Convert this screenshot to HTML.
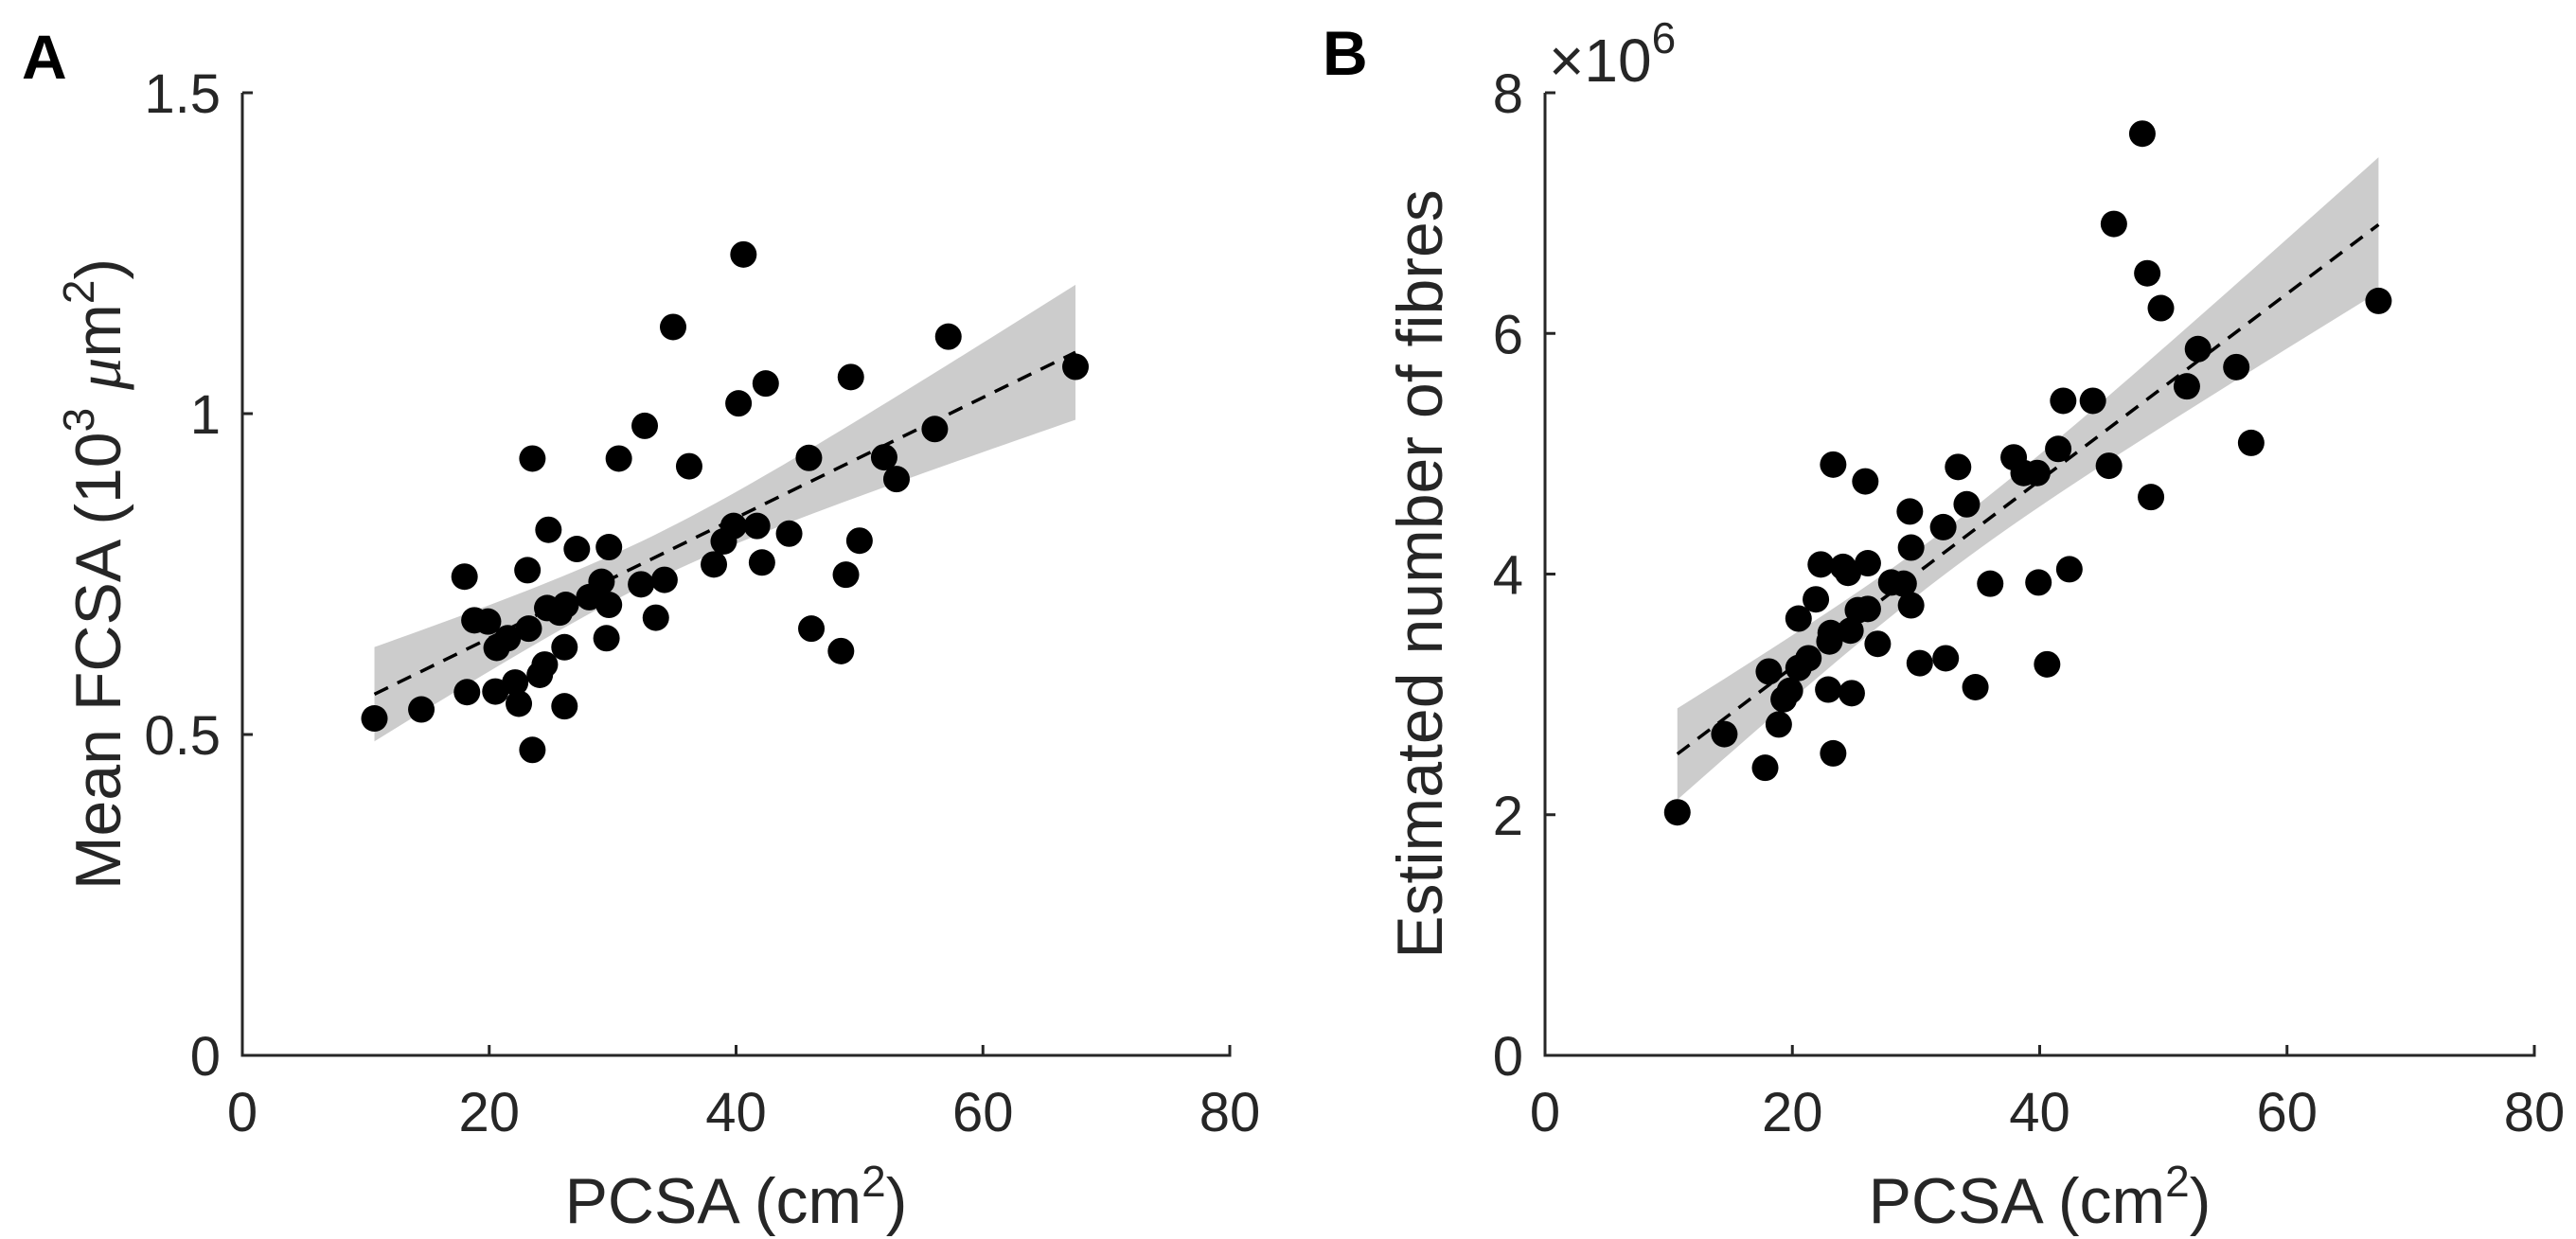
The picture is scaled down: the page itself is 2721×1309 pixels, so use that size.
<!DOCTYPE html>
<html><head><meta charset="utf-8"><style>
html,body{margin:0;padding:0;background:#fff;}
svg{display:block;font-family:"Liberation Sans",Arial,sans-serif;}
</style></head><body>
<svg id="fig" width="2721" height="1309" viewBox="0 0 2721 1309" xmlns="http://www.w3.org/2000/svg">
<text x="23" y="83" font-size="66" font-weight="bold" fill="#000">A</text>
<text x="1397" y="79" font-size="66" font-weight="bold" fill="#000">B</text>
<g id="pa"></g>
<g id="pb"></g>
</svg>
<script>
const xTicks = [0,20,40,60,80];
const aYTicks = [0,0.5,1,1.5];
const aYTickLabels = ["0","0.5","1","1.5"];
const bYTicks = [0,2,4,6,8];
const bYTickLabels = ["0","2","4","6","8"];
const aX = [10.7,14.5,18.0,18.2,18.8,19.9,20.5,20.6,21.5,22.1,22.4,23.1,23.2,23.5,23.5,24.1,24.5,24.7,24.8,25.7,26.1,26.1,26.2,27.1,28.1,29.1,29.5,29.7,29.7,30.5,32.3,32.6,33.5,34.2,34.9,36.2,38.2,39.0,39.8,40.2,40.6,41.7,42.1,42.4,44.3,45.9,46.1,48.5,48.9,49.3,50.0,52.0,53.0,56.1,57.2,67.5];
const aY = [.525,.539,.746,.566,.678,.676,.567,.635,.650,.581,.548,.756,.665,.930,.476,.593,.609,.697,.819,.690,.636,.544,.702,.789,.714,.738,.650,.792,.702,.930,.734,.981,.682,.741,1.135,.918,.765,.801,.825,1.016,1.248,.825,.768,1.047,.813,.931,.665,.630,.749,1.057,.802,.932,.898,.976,1.120,1.073];
const bX = [10.7,14.5,17.8,18.1,18.9,19.3,19.8,20.5,20.5,21.3,21.9,22.3,22.9,23.0,23.1,23.3,23.3,24.1,24.5,24.7,24.8,25.3,25.9,26.1,26.1,26.9,28.0,29.0,29.5,29.6,29.6,30.3,32.2,32.4,33.4,34.1,34.8,36.0,37.9,38.7,39.8,39.9,40.6,41.5,41.9,42.4,44.3,45.6,46.0,48.3,48.7,49.0,49.8,51.9,52.8,55.9,57.1,67.4];
const bY = [2.02,2.67,2.39,3.19,2.75,2.96,3.03,3.63,3.22,3.30,3.79,4.08,3.04,3.44,3.51,2.51,4.91,4.06,4.01,3.53,3.01,3.70,4.77,4.09,3.71,3.42,3.93,3.92,4.52,4.22,3.74,3.26,4.39,3.30,4.89,4.58,3.06,3.92,4.97,4.84,4.84,3.93,3.25,5.04,5.44,4.04,5.44,4.90,6.91,7.66,6.50,4.64,6.21,5.56,5.87,5.72,5.09,6.27];

const NS="http://www.w3.org/2000/svg";
function mk(parent,tag,attrs,text){const e=document.createElementNS(NS,tag);for(const k in attrs)e.setAttribute(k,attrs[k]);if(text!==undefined)e.textContent=text;parent.appendChild(e);return e;}

function panel(g,L,R,T,B,ymax,yTicks,yTickLabels,xs,ys,ylabel,ylabelX,bandScale){
  const sx=v=>L+(v/80)*(R-L);
  const sy=v=>B-(v/ymax)*(B-T);
  const n=xs.length;let mx=0,my=0;for(let i=0;i<n;i++){mx+=xs[i];my+=ys[i];}mx/=n;my/=n;
  let sxx=0,sxy=0;for(let i=0;i<n;i++){sxx+=(xs[i]-mx)**2;sxy+=(xs[i]-mx)*(ys[i]-my);}
  const b=sxy/sxx,a=my-b*mx;let sse=0;for(let i=0;i<n;i++){sse+=(ys[i]-a-b*xs[i])**2;}
  const s=Math.sqrt(sse/(n-2));
  const x0=Math.min(...xs),x1=Math.max(...xs);
  const up=[],lo=[];
  for(let k=0;k<=60;k++){const x=x0+(x1-x0)*k/60;const h=bandScale*2.0*s*Math.sqrt(1/n+(x-mx)**2/sxx);const f=a+b*x;up.push(sx(x)+","+sy(f+h));lo.unshift(sx(x)+","+sy(f-h));}
  const band=mk(g,"polygon",{points:up.concat(lo).join(" "),fill:"#cccccc",stroke:"none"});
  
  
  const ln=mk(g,"line",{x1:sx(x0),y1:sy(a+b*x0),x2:sx(x1),y2:sy(a+b*x1),stroke:"#000","stroke-width":3.5,"stroke-dasharray":"16 11"});
  
  
  for(let i=0;i<n;i++){
    const c=mk(g,"circle",{cx:sx(xs[i]),cy:sy(ys[i]),r:14,fill:"#000"});
    
    
  }
  const ax=mk(g,"path",{d:`M${L},${T}H${L+11}M${L},${T}V${B}H${R}V${B-11}`,fill:"none",stroke:"#262626","stroke-width":3});
  
  
  xTicks.forEach(v=>{
    if(v>0&&v<80){const t=mk(g,"line",{x1:sx(v),y1:B,x2:sx(v),y2:B-11,stroke:"#262626","stroke-width":3});
    
    }
    const tl=mk(g,"text",{x:sx(v),y:B+80,"font-size":58,fill:"#262626","text-anchor":"middle"},String(v));
    
    
  });
  yTicks.forEach((v,i)=>{
    if(v>0&&v<ymax){const t=mk(g,"line",{x1:L,y1:sy(v),x2:L+11,y2:sy(v),stroke:"#262626","stroke-width":3});
    
    }
    const tl=mk(g,"text",{x:L-23,y:sy(v)+21,"font-size":58,fill:"#262626","text-anchor":"end"},yTickLabels[i]);
    
    
  });
  const xl=mk(g,"text",{x:(L+R)/2,y:1292,"font-size":68,fill:"#262626","text-anchor":"middle"});
  
  
  mk(xl,"tspan",{},"PCSA (cm");mk(xl,"tspan",{dy:-28,"font-size":46},"2");mk(xl,"tspan",{dy:28},")");
  const yl=mk(g,"text",{x:0,y:0,"font-size":68,fill:"#262626","text-anchor":"middle",transform:`translate(${ylabelX},${(T+B)/2}) rotate(-90)`});
  
  
  ylabel(yl);
}
const pa=document.getElementById('pa'),pb=document.getElementById('pb');
panel(pa,256,1299,98,1115,1.5,aYTicks,aYTickLabels,aX,aY,yl=>{
  mk(yl,"tspan",{},"Mean FCSA (10");mk(yl,"tspan",{dy:-28,"font-size":46},"3");
  mk(yl,"tspan",{dy:28}," ");mk(yl,"tspan",{"font-style":"italic","font-family":"Liberation Serif, serif"},"μ");
  mk(yl,"tspan",{},"m");mk(yl,"tspan",{dy:-28,"font-size":46},"2");mk(yl,"tspan",{dy:28},")");
},127,1.0);
panel(pb,1632,2677,98,1115,8,bYTicks,bYTickLabels,bX,bY,yl=>{
  mk(yl,"tspan",{},"Estimated number of fibres");
},1523,1.0);
const ex=mk(pb,"text",{x:1636,y:86,"font-size":64,fill:"#262626"});


mk(ex,"tspan",{},"×10");mk(ex,"tspan",{dy:-30,"font-size":46},"6");
</script>
</body></html>
